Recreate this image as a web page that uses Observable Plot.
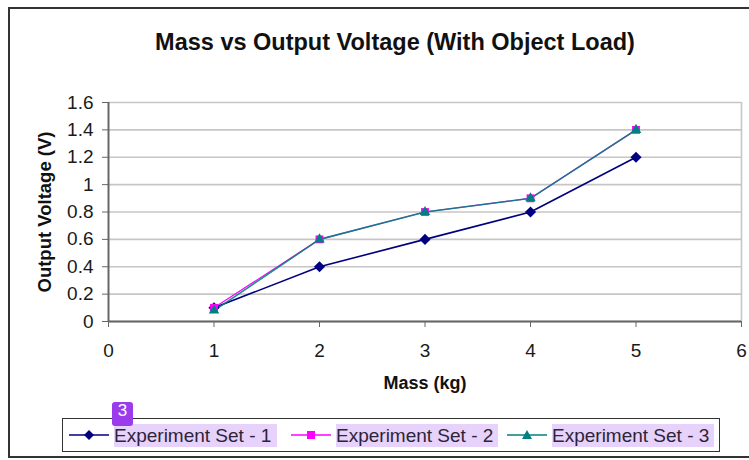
<!DOCTYPE html>
<html>
<head>
<meta charset="utf-8">
<script src="https://cdn.jsdelivr.net/npm/d3@7"></script>
<script src="https://cdn.jsdelivr.net/npm/@observablehq/plot@0.6"></script>
<style>
  html, body { margin: 0; padding: 0; background: #fff; overflow: hidden; }
  #wrap { position: relative; width: 749px; height: 460px; font-family: "Liberation Sans", Arial, Helvetica, sans-serif; color: #111; }
  #chart { position: absolute; left: 0; top: 0; }
  #border { position: absolute; left: 8px; top: 7px; width: 780px; height: 447px; border: 2px solid #333; pointer-events: none; }
  #title { position: absolute; left: 0; top: 30px; width: 790px; text-align: center; font-weight: bold; font-size: 23.5px; line-height: 24px; color: #111; }
  #legend { position: absolute; left: 62px; top: 418px; width: 656px; height: 32px; border: 1.5px solid #333; background: #fff; }
  .sw { position: absolute; top: 0; }
  .lt { position: absolute; top: 5px; height: 23px; background: #e6d2fb; color: #2e2438; font-size: 19px; line-height: 23px; white-space: nowrap; }
  #badge { position: absolute; left: 112px; top: 402px; width: 21px; height: 24px; background: #9a3cec; color: #fff; border-radius: 3px; font-size: 17px; line-height: 18px; text-align: center; }
</style>
</head>
<body>
<div id="wrap">
  <div id="chart"></div>
  <div id="title"></div>
  <div id="legend"></div>
  <div id="badge">3</div>
  <div id="border"></div>
</div>
<script>
const titleText = "Mass vs Output Voltage (With Object Load)";
const xLabel = "Mass (kg)";
const yLabel = "Output Voltage (V)";
const series = ["Experiment Set - 1", "Experiment Set - 2", "Experiment Set - 3"];
const colors = ["#000080", "#ff00ff", "#008080"];
const symbols = ["diamond2", "square2", "triangle2"];
const mass = [1, 2, 3, 4, 5];
const set1 = [0.1, 0.4, 0.6, 0.8, 1.2];
const set2 = [0.1, 0.6, 0.8, 0.9, 1.4];
const set3 = [0.08, 0.6, 0.8, 0.9, 1.4];
const xTicks = [0, 1, 2, 3, 4, 5, 6];
const yTicks = [0, 0.2, 0.4, 0.6, 0.8, 1, 1.2, 1.4, 1.6];

const values = [set1, set2, set3];
const data = series.flatMap((s, k) => mass.map((m, i) => ({ mass: m, volt: values[k][i], series: s })));
const bySeries = s => data.filter(d => d.series === s);

document.getElementById("title").textContent = titleText;

const lineMarks = series.map((s, k) =>
  Plot.line(bySeries(s), { x: "mass", y: "volt", stroke: colors[k], strokeWidth: k === 1 ? 1.2 : 1.6, strokeOpacity: k === 2 ? 0.88 : 1 })
);
const dotMarks = series.map((s, k) =>
  Plot.dot(bySeries(s), { x: "mass", y: "volt", symbol: symbols[k], fill: colors[k], stroke: "none", r: 5 })
);

const chart = Plot.plot({
  width: 749,
  height: 460,
  marginLeft: 108,
  marginRight: 8,
  marginTop: 102,
  marginBottom: 139,
  style: { fontFamily: "'Liberation Sans', Arial, sans-serif", background: "transparent", overflow: "visible" },
  x: { domain: [0, 6] },
  y: { domain: [0, 1.6] },
  marks: [
    Plot.gridY(yTicks, { stroke: "#c6c6c6", strokeWidth: 1.6, strokeOpacity: 1 }),
    Plot.ruleX([6], { stroke: "#c6c6c6", strokeWidth: 1.6 }),
    Plot.ruleY([0], { stroke: "#666", strokeWidth: 2 }),
    Plot.ruleX([0], { stroke: "#666", strokeWidth: 2 }),
    Plot.axisY(yTicks, { anchor: "left", tickSize: 6, tickPadding: 9, fontSize: 19, stroke: "#666", fill: "#1a1a1a", label: null, tickFormat: d => String(d) }),
    Plot.axisX(xTicks, { anchor: "bottom", tickSize: 6, tickPadding: 16, fontSize: 19, stroke: "#666", fill: "#1a1a1a", label: null, tickFormat: d => String(d) }),
    ...lineMarks,
    ...dotMarks,
    Plot.text([yLabel], { frameAnchor: "left", dx: -63, rotate: -90, textAnchor: "middle", lineAnchor: "middle", fontSize: 18.5, fontWeight: "bold", fill: "#111" }),
    Plot.text([xLabel], { frameAnchor: "bottom", dy: 62, textAnchor: "middle", lineAnchor: "middle", fontSize: 18, fontWeight: "bold", fill: "#111" })
  ]
});
document.getElementById("chart").appendChild(chart);

// Legend (positions relative to the legend box)
const legend = document.getElementById("legend");
const swatchX = [6, 228, 444];
const textX = [51, 273, 489];
const textW = [163, 162, 162];
const shapes = [
  c => `<path d="M20 11 L25 16 L20 21 L15 16 Z" fill="${c}"/>`,
  c => `<rect x="16" y="12" width="8" height="8" fill="${c}"/>`,
  c => `<path d="M20 11 L25 20 L15 20 Z" fill="${c}"/>`
];
series.forEach((s, k) => {
  const sw = document.createElement("div");
  sw.className = "sw";
  sw.style.left = swatchX[k] + "px";
  sw.innerHTML = `<svg width="40" height="32"><line x1="0" x2="40" y1="16" y2="16" stroke="${colors[k]}" stroke-width="1.6"/>${shapes[k](colors[k])}</svg>`;
  legend.appendChild(sw);
  const t = document.createElement("div");
  t.className = "lt";
  t.style.left = textX[k] + "px";
  t.style.width = textW[k] + "px";
  t.textContent = s;
  legend.appendChild(t);
});
</script>
</body>
</html>
